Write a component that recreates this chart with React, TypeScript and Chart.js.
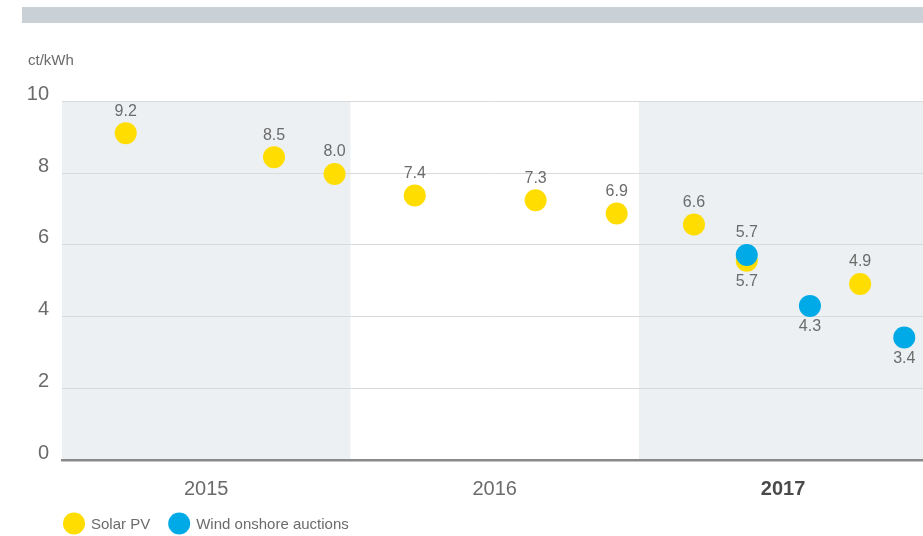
import React, { useEffect, useRef } from "react";
import { Chart, registerables } from "chart.js";

Chart.register(...registerables);

// ---- data ----
const years = ["2015", "2016", "2017"];
const boldYear = "2017";
const shadedYears = [true, false, true];
const unitLabel = "ct/kWh";
const seriesNames = ["Solar PV", "Wind onshore auctions"];

const solarX = [0.221, 0.735, 0.945, 1.223, 1.642, 1.923, 2.191, 2.374, 2.767];
const solarY = [9.12, 8.45, 7.98, 7.38, 7.25, 6.88, 6.57, 5.56, 4.91];
const solarLabels = ["9.2", "8.5", "8.0", "7.4", "7.3", "6.9", "6.6", "5.7", "4.9"];
const solarLabelSide = ["above", "above", "above", "above", "above", "above", "above", "below", "above"];

const windX = [2.374, 2.593, 2.92];
const windY = [5.72, 4.3, 3.42];
const windLabels = ["5.7", "4.3", "3.4"];
const windLabelSide = ["above", "below", "below"];

// ---- style ----
const FONT = "'Liberation Sans', Arial, sans-serif";
const YELLOW = "#FFDD00";
const BLUE = "#00AAE6";
const BAND = "#ECF0F3";
const TEXT = "#6b6b6b";

export default function App() {
  const ref = useRef<HTMLCanvasElement | null>(null);

  useEffect(() => {
    const canvas = ref.current;
    if (!canvas) return;

    const decorPlugin = {
      id: "decor",
      beforeDraw(chart: any) {
        const { ctx, chartArea, scales } = chart;
        ctx.save();
        // top header bar
        ctx.fillStyle = "#C9D1D7";
        ctx.fillRect(22, 7, chart.width - 22, 16);
        // shaded year bands
        ctx.fillStyle = BAND;
        shadedYears.forEach((s, i) => {
          if (!s) return;
          const x0 = Math.max(scales.x.getPixelForValue(i), chartArea.left);
          const x1 = Math.min(scales.x.getPixelForValue(i + 1), chartArea.right);
          ctx.fillRect(x0, chartArea.top, x1 - x0, chartArea.bottom - chartArea.top);
        });
        // unit label
        ctx.fillStyle = TEXT;
        ctx.font = `15px ${FONT}`;
        ctx.textAlign = "left";
        ctx.textBaseline = "middle";
        ctx.fillText(unitLabel, 28, 61);
        ctx.restore();
      },
      afterDatasetsDraw(chart: any) {
        const { ctx } = chart;
        const labelSets = [
          { labels: solarLabels, sides: solarLabelSide },
          { labels: windLabels, sides: windLabelSide },
        ];
        ctx.save();
        ctx.fillStyle = TEXT;
        ctx.font = `16px ${FONT}`;
        ctx.textAlign = "center";
        ctx.textBaseline = "middle";
        labelSets.forEach((set, di) => {
          const meta = chart.getDatasetMeta(di);
          meta.data.forEach((el: any, i: number) => {
            const off = set.sides[i] === "above" ? -22 : 21;
            ctx.fillText(set.labels[i], el.x, el.y + off);
          });
        });
        ctx.restore();
      },
      afterDraw(chart: any) {
        const { ctx } = chart;
        const colors = [YELLOW, BLUE];
        ctx.save();
        ctx.font = `15px ${FONT}`;
        ctx.textAlign = "left";
        ctx.textBaseline = "middle";
        let x = 63;
        const y = 523.5;
        seriesNames.forEach((name, i) => {
          ctx.fillStyle = colors[i];
          ctx.beginPath();
          ctx.arc(x + 11, y, 11, 0, Math.PI * 2);
          ctx.fill();
          ctx.fillStyle = TEXT;
          ctx.fillText(name, x + 28, y + 1);
          x = x + 28 + ctx.measureText(name).width + 18;
        });
        ctx.restore();
      },
    };

    const chart = new Chart(canvas, {
      type: "scatter",
      data: {
        datasets: [
          {
            label: seriesNames[0],
            data: solarX.map((x, i) => ({ x, y: solarY[i] })),
            backgroundColor: YELLOW,
            borderWidth: 0,
            pointRadius: 11,
            order: 2,
          },
          {
            label: seriesNames[1],
            data: windX.map((x, i) => ({ x, y: windY[i] })),
            backgroundColor: BLUE,
            borderWidth: 0,
            pointRadius: 11,
            order: 1,
          },
        ],
      },
      options: {
        animation: false,
        responsive: false,
        devicePixelRatio: 1,
        layout: { autoPadding: false, padding: { top: 101.6, left: 0, right: 0, bottom: 0 } },
        plugins: {
          legend: { display: false },
          tooltip: { enabled: false },
        },
        scales: {
          x: {
            type: "linear",
            min: 0,
            max: 2.985,
            afterBuildTicks: (scale: any) => {
              scale.ticks = years.map((_, i) => ({ value: i + 0.5 }));
            },
            afterFit: (scale: any) => {
              scale.height = 76;
            },
            grid: { display: false, drawTicks: false },
            border: { display: true, color: "#8a8a8a", width: 2.5 },
            ticks: {
              padding: 17,
              autoSkip: false,
              maxRotation: 0,
              callback: (_v: any, i: number) => years[i],
              font: (ctx: any) => ({
                family: FONT,
                size: 20,
                weight: years[ctx.index] === boldYear ? "bold" : "normal",
              }),
              color: (ctx: any) => (years[ctx.index] === boldYear ? "#4a4a4a" : TEXT),
            },
          },
          y: {
            min: 0,
            max: 10,
            afterFit: (scale: any) => {
              scale.width = 62;
            },
            grid: {
              drawTicks: false,
              color: (ctx: any) => (ctx.tick && ctx.tick.value === 0 ? "rgba(0,0,0,0)" : "#dadada"),
              lineWidth: 1,
            },
            border: { display: false },
            ticks: {
              stepSize: 2,
              padding: 13,
              labelOffset: -7,
              font: { family: FONT, size: 20 },
              color: TEXT,
            },
          },
        },
      },
      plugins: [decorPlugin],
    } as any);

    return () => chart.destroy();
  }, []);

  return (
    <div style={{ position: "fixed", left: 0, top: 0, width: 923, height: 536, background: "#fff" }}>
      <canvas ref={ref} width={923} height={536} style={{ display: "block" }} />
    </div>
  );
}
